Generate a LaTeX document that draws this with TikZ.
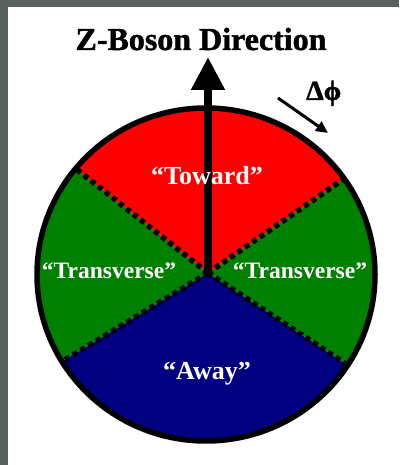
\documentclass[tikz,border=0pt]{standalone}
\usepackage{fontspec}
\setmainfont{Liberation Serif}
\newfontfamily\heavyfont[FakeBold=1.5]{Liberation Serif Bold}
\usetikzlibrary{arrows.meta,calc}
\definecolor{framegray}{RGB}{89,98,97}
\definecolor{towardred}{RGB}{255,0,0}
\definecolor{transgreen}{RGB}{0,128,0}
\definecolor{awayblue}{RGB}{0,0,128}
\begin{document}
\begin{tikzpicture}[x=1pt,y=1pt,
  lbl/.style={text=white,font=\bfseries\fontsize{23.5}{23.5}\selectfont,inner sep=0pt,anchor=base},
  biglbl/.style={lbl,font=\bfseries\fontsize{26}{26}\selectfont},
  sepline/.style={black,line width=5.5pt,dash pattern=on 5pt off 4pt},
  rim/.style={line width=5.5pt}]
\useasboundingbox (0,0) rectangle (399,465);
\fill[white] (0,0) rectangle (399,465);
\fill[framegray] (0,458) rectangle (399,465);
\fill[framegray] (0,0) rectangle (8,465);
\coordinate (O) at (208,192);
\coordinate (C) at (206,190.5);
\begin{scope}
  \clip (C) ellipse [x radius=169, y radius=166.5];
  \fill[towardred] (O) -- ($(O)+(34.7:300)$) -- ($(O)+(90:300)$) -- ($(O)+(141.7:300)$) -- cycle;
  \fill[transgreen] (O) -- ($(O)+(141.7:300)$) -- ($(O)+(180:300)$) -- ($(O)+(211.3:300)$) -- cycle;
  \fill[awayblue] (O) -- ($(O)+(211.3:300)$) -- ($(O)+(270:300)$) -- ($(O)+(326.6:300)$) -- cycle;
  \fill[transgreen] (O) -- ($(O)+(326.6:300)$) -- ($(O)+(0:300)$) -- ($(O)+(34.7:300)$) -- cycle;
  \draw[sepline] (O) -- ($(O)+(34.7:300)$);
  \draw[sepline] (O) -- ($(O)+(141.7:300)$);
  \draw[sepline] (O) -- ($(O)+(211.3:300)$);
  \draw[sepline] (O) -- ($(O)+(326.6:300)$);
\end{scope}
\draw[rim] (C) ellipse [x radius=169, y radius=166.5];
\coordinate (ztip) at (208,408);
\draw[line width=8pt,-{Triangle[length=33pt,width=32pt]}] (O) -- (ztip);
\node[font=\heavyfont\fontsize{32}{32}\selectfont,anchor=base,inner sep=0pt] (title) at (201,415) {Z-Boson Direction};
\node[font=\heavyfont\fontsize{28}{28}\selectfont,anchor=base west,inner sep=0pt] (dphi) at (306,365) {Δϕ};
\coordinate (da) at (278,367);
\coordinate (db) at (328,332);
\draw[line width=3pt,-{Triangle[length=12pt,width=11pt]}] (da) -- (db);
\node[biglbl] (toward) at (207,280) {“Toward”};
\node[lbl] (transL) at (109,186) {“Transverse”};
\node[lbl] (transR) at (300,186) {“Transverse”};
\node[biglbl] (away) at (207,85) {“Away”};
\end{tikzpicture}
\end{document}
